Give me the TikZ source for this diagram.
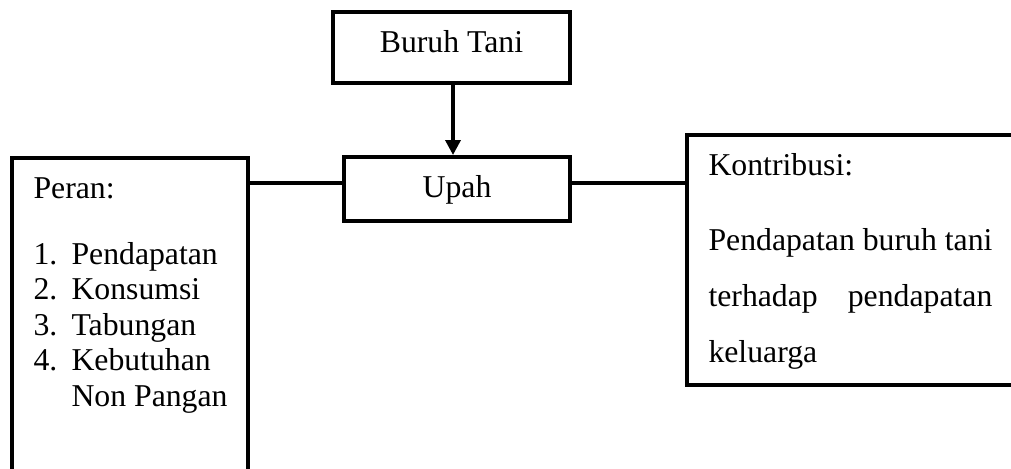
\documentclass[tikz,border=0pt]{standalone}
\usepackage{fontspec}
\setmainfont{Liberation Serif}
\usetikzlibrary{arrows.meta}

\tikzset{
  box/.style={draw,line width=1.6pt,inner sep=0pt},
  txt/.style={inner sep=0pt,anchor=base west},
  link/.style={line width=1.4pt}
}

\begin{document}
\begin{tikzpicture}[x=0.4pt,y=-0.4pt,font=\fontsize{12.7}{14.2}\selectfont]
\clip (0,0) rectangle (1011,468);
% boxes
\node[box,minimum width=237*0.4pt,minimum height=71*0.4pt,text height=8.4pt,text depth=4.8pt] (buruh) at (451.5,47.5) {Buruh Tani};
\node[box,minimum width=226*0.4pt,minimum height=64*0.4pt,text height=8.4pt,text depth=2pt] (upah) at (457,189) {Upah};
\node[box,minimum width=236*0.4pt,minimum height=342*0.4pt] (peran) at (130,329) {};
\node[box,minimum width=343*0.4pt,minimum height=250*0.4pt] (kontri) at (858.5,260) {};

% connectors
\coordinate (lvl) at (0,183);
\draw[link,-{Triangle[length=6pt,width=6pt]}] (buruh.south -| 453,0) -- (upah.north -| 453,0);
\draw[link] (peran.east |- lvl) -- (upah.west |- lvl);
\draw[link] (upah.east |- lvl) -- (kontri.west |- lvl);

% left box text
\node[txt] (peranlbl) at (33,198) {Peran:};
\foreach \n/\t [count=\i] in {1/Pendapatan,2/Konsumsi,3/Tabungan,4/Kebutuhan}
{
  \node[txt] (num\i) at (33,264+35.5*\i-35.5) {\n.};
  \node[txt] (item\i) at (71,264+35.5*\i-35.5) {\t};
}
\node[txt] (item5) at (71,406) {Non Pangan};

% right box text
\node[txt] (k1) at (708,175) {Kontribusi:};
\node[txt] (k2) at (708,250) {Pendapatan buruh tani};
\node[txt] (k3a) at (708,306) {terhadap};
\node[txt,anchor=base east] (k3b) at (k2.base east |- 0,306) {pendapatan};
\node[txt] (k4) at (708,362) {keluarga};
\end{tikzpicture}
\end{document}
